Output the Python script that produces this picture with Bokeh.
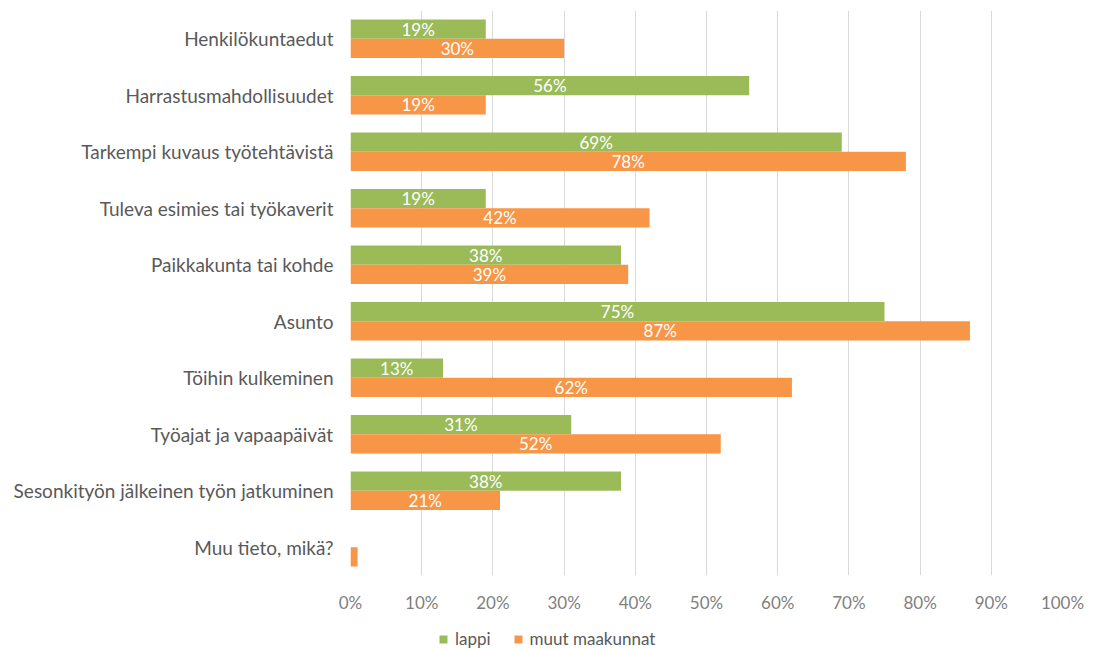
from bokeh.plotting import figure
from bokeh.layouts import column
from bokeh.models import (Legend, LegendItem, NumeralTickFormatter, ColumnDataSource,
                          LabelSet, FixedTicker, Range1d)
from bokeh.core.properties import value
from bokeh.embed import file_html
from bokeh.resources import INLINE

categories = ["Henkilökuntaedut", "Harrastusmahdollisuudet", "Tarkempi kuvaus työtehtävistä",
              "Tuleva esimies tai työkaverit", "Paikkakunta tai kohde", "Asunto",
              "Töihin kulkeminen", "Työajat ja vapaapäivät",
              "Sesonkityön jälkeinen työn jatkuminen", "Muu tieto, mikä?"]
lappi = [19, 56, 69, 19, 38, 75, 13, 31, 38, 0]
muut = [30, 19, 78, 42, 39, 87, 62, 52, 21, 1]
series_names = ["lappi", "muut maakunnat"]
x_ticks = [0, 10, 20, 30, 40, 50, 60, 70, 80, 90, 100]

GREEN = "#9BBB59"
ORANGE = "#F79646"
FONT = "Lato"
BAR_H = 0.34

n = len(categories)
centers = [n - i - 0.5 for i in range(n)]

src = ColumnDataSource(dict(
    y_l=[c + BAR_H / 2 for c in centers],
    y_m=[c - BAR_H / 2 for c in centers],
    lappi=[v / 100 for v in lappi],
    muut=[v / 100 for v in muut],
    lappi_mid=[v / 200 for v in lappi],
    muut_mid=[v / 200 for v in muut],
    lappi_lbl=[f"{v}%" if v >= 5 else "" for v in lappi],
    muut_lbl=[f"{v}%" if v >= 5 else "" for v in muut],
))

p = figure(width=1095, height=615, output_backend="svg", toolbar_location=None,
           y_range=Range1d(0, n), x_range=Range1d(0, 1.0),
           min_border_left=350, min_border_right=33, min_border_top=10, min_border_bottom=33)

p.hbar(y="y_l", right="lappi", left=0, height=BAR_H, source=src,
       color=GREEN, line_color=None)
p.hbar(y="y_m", right="muut", left=0, height=BAR_H, source=src,
       color=ORANGE, line_color=None)

for col, ycol, lbl in (("lappi_mid", "y_l", "lappi_lbl"), ("muut_mid", "y_m", "muut_lbl")):
    ls = LabelSet(x=col, y=ycol, text=lbl, source=src,
                  text_align="center", text_baseline="middle", text_color="white",
                  text_font=value(FONT), text_font_size="17px")
    p.add_layout(ls)

p.xaxis.ticker = FixedTicker(ticks=[t / 100 for t in x_ticks])
p.xaxis.formatter = NumeralTickFormatter(format="0%")
p.xaxis.axis_line_color = None
p.xaxis.major_tick_line_color = None
p.xaxis.minor_tick_line_color = None
p.xaxis.major_label_text_font = FONT
p.xaxis.major_label_text_font_size = "17px"
p.xaxis.major_label_text_color = "#7F7F7F"
p.xaxis.major_label_standoff = 10

p.yaxis.ticker = FixedTicker(ticks=centers)
p.yaxis.major_label_overrides = {c: name for c, name in zip(centers, categories)}
p.yaxis.axis_line_color = None
p.yaxis.major_tick_line_color = None
p.yaxis.minor_tick_line_color = None
p.yaxis.major_label_text_font = FONT
p.yaxis.major_label_text_font_size = "19px"
p.yaxis.major_label_text_color = "#595959"
p.yaxis.major_label_standoff = 11

p.ygrid.grid_line_color = None
p.xgrid.grid_line_color = "#D9D9D9"
p.xgrid.grid_line_width = 1
p.outline_line_color = None

# legend strip below the chart (its frame is aligned with the chart frame)
lg = figure(width=1095, height=35, output_backend="svg", toolbar_location=None,
            x_range=Range1d(0, 1), y_range=Range1d(0, 1),
            min_border_left=0, min_border_right=0, min_border_top=0, min_border_bottom=0)
lg.axis.visible = False
lg.grid.visible = False
lg.outline_line_color = None
d1 = lg.hbar(y=[-5], right=[1], left=0, height=0.1, color=GREEN, line_color=None)
d2 = lg.hbar(y=[-5], right=[1], left=0, height=0.1, color=ORANGE, line_color=None)
legend = Legend(items=[LegendItem(label=series_names[0], renderers=[d1]),
                       LegendItem(label=series_names[1], renderers=[d2])],
                orientation="horizontal", location=(88, 1),
                label_text_font=FONT, label_text_font_size="17px", label_text_color="#595959",
                glyph_width=10, glyph_height=10, spacing=22, padding=4, margin=0,
                border_line_color=None, background_fill_alpha=0, label_standoff=7)
lg.add_layout(legend, "center")

layout = column(p, lg, spacing=0)
open("out.html", "w").write(file_html(layout, INLINE))
